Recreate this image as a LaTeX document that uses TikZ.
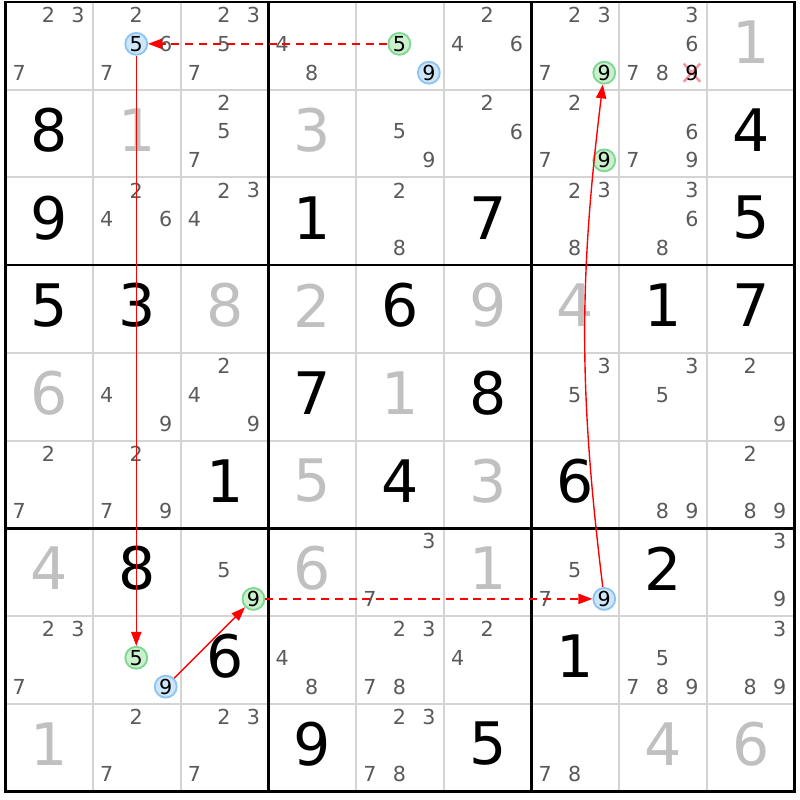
\documentclass[tikz,border=0pt]{standalone}
\usepackage{fontspec}
\setmainfont{DejaVu Sans}
\usepackage{xcolor}
\usetikzlibrary{arrows.meta,shapes.misc}
\definecolor{candgray}{RGB}{90,90,90}
\definecolor{solvedgray}{RGB}{192,192,192}
\definecolor{gridgray}{RGB}{212,212,212}
\definecolor{blueedge}{RGB}{142,196,242}
\definecolor{bluefill}{RGB}{206,230,250}
\definecolor{greenedge}{RGB}{126,216,146}
\definecolor{greenfill}{RGB}{202,240,204}
\definecolor{crosspink}{RGB}{244,150,160}

\begin{document}
\begin{tikzpicture}[
            given/.style={font=\fontsize{19}{19}\selectfont, text=black, inner sep=0pt},
            solved/.style={given, text=solvedgray},
            cand/.style={font=\fontsize{6.7}{6.7}\selectfont, text=candgray, inner sep=0pt},
            hlblue/.style={circle, draw=blueedge, fill=bluefill, line width=0.6pt, minimum size=0.25cm, inner sep=0pt, font=\fontsize{6.7}{6.7}\selectfont},
            hlgreen/.style={hlblue, draw=greenedge, fill=greenfill},
            link/.style={draw=red, line width=0.45pt, -{Triangle[length=4.5pt,width=3.3pt]}},
            weak/.style={link, dash pattern=on 2.6pt off 1.9pt}]
            \fill[white] (-0.0627,0.0228) rectangle (9.059,-9.099);
            \useasboundingbox (-0.0627,0.0228) rectangle (9.059,-9.099);
            \foreach \i in {1,2,4,5,7,8} {
                \draw[gridgray, line width=0.65pt] (\i,0) -- (\i,-9);
                \draw[gridgray, line width=0.65pt] (0,-\i) -- (9,-\i);
            }
            \foreach \i in {3,6} {
                \draw[line width=0.9pt] (\i,0) -- (\i,-9);
                \draw[line width=0.9pt] (0,-\i) -- (9,-\i);
            }
            \draw[line width=0.9pt] (0,0) rectangle (9,-9);
            \foreach \r in {1,...,9} \foreach \c in {1,...,9} \foreach \d in {1,...,9}
                \coordinate (k\r\c\d) at ({\c-1+0.155+0.336*mod(\d-1,3)}, {-(\r-1)-0.148-0.329*int((\d-1)/3)});
            \foreach \r/\c/\d in {2/1/8, 3/1/9, 3/4/1, 3/6/7, 2/9/4, 3/9/5, 4/1/5, 4/2/3, 6/3/1, 4/5/6, 5/4/7, 5/6/8,
                                  6/5/4, 4/8/1, 4/9/7, 6/7/6, 7/2/8, 8/3/6, 9/4/9, 9/6/5, 7/8/2, 8/7/1}
                \node[given] (v\r\c) at (\c-0.5, -\r+0.54) {\d};
            \foreach \r/\c/\d in {2/2/1, 2/4/3, 1/9/1, 4/3/8, 5/1/6, 4/4/2, 4/6/9, 5/5/1, 6/4/5, 6/6/3, 4/7/4,
                                  7/1/4, 9/1/1, 7/4/6, 7/6/1, 9/8/4, 9/9/6}
                \node[solved] (v\r\c) at (\c-0.5, -\r+0.54) {\d};
            \foreach \r/\c/\ds in {1/1/{2,3,7}, 1/2/{2,6,7}, 1/3/{2,3,5,7}, 1/4/{4,8}, 1/6/{2,4,6}, 1/7/{2,3,7}, 1/8/{3,6,7,8},
                                   2/3/{2,5,7}, 2/5/{5,9}, 2/6/{2,6}, 2/7/{2,7}, 2/8/{6,7,9},
                                   3/2/{2,4,6}, 3/3/{2,3,4}, 3/5/{2,8}, 3/7/{2,3,8}, 3/8/{3,6,8},
                                   5/2/{4,9}, 5/3/{2,4,9}, 5/7/{3,5}, 5/8/{3,5}, 5/9/{2,9},
                                   6/1/{2,7}, 6/2/{2,7,9}, 6/8/{8,9}, 6/9/{2,8,9},
                                   7/3/{5}, 7/5/{3,7}, 7/7/{5,7}, 7/9/{3,9},
                                   8/1/{2,3,7}, 8/4/{4,8}, 8/5/{2,3,7,8}, 8/6/{2,4}, 8/8/{5,7,8,9}, 8/9/{3,8,9},
                                   9/2/{2,7}, 9/3/{2,3,7}, 9/5/{2,3,7,8}, 9/7/{7,8}}
                \foreach \d in \ds
                    \node[cand] at (k\r\c\d) {\d};
            \node[cross out, draw=crosspink, line width=0.8pt, minimum width=0.16cm, minimum height=0.18cm, inner sep=0pt] (x) at (k189) {};
            \node[cand, text=black] (e) at (k189) {9};
            \node[hlblue] (b1) at (k125) {5};
            \node[hlgreen] (g1) at (k155) {5};
            \node[hlblue] (b0) at (k159) {9};
            \node[hlgreen] (g4) at (k179) {9};
            \node[hlgreen] (g5) at (k279) {9};
            \node[hlgreen] (g3) at (k739) {9};
            \node[hlblue] (b3) at (k779) {9};
            \node[hlgreen] (g2) at (k825) {5};
            \node[hlblue] (b2) at (k829) {9};
            \draw[weak] (g1) -- (b1);
            \draw[link] (b1) -- (g2);
            \draw[link] (b2) -- (g3);
            \draw[weak] (g3) -- (b3);
            \draw[link] (b3) to[bend left=7] (g4);
        \end{tikzpicture}
\end{document}
